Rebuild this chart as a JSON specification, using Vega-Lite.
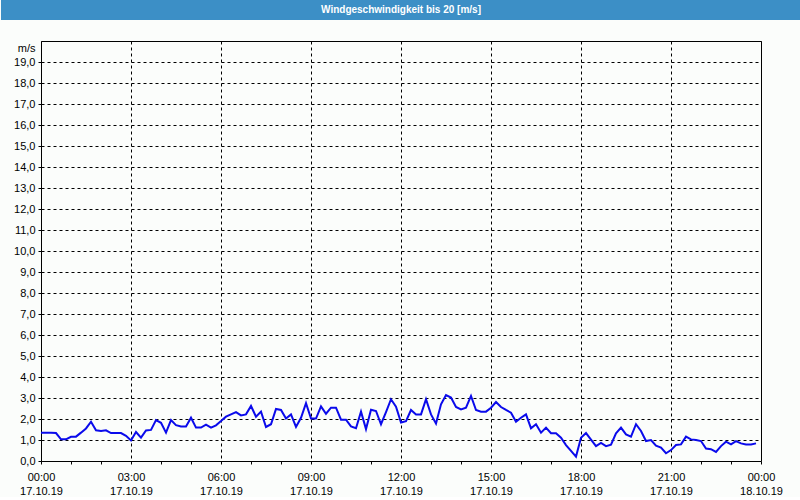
{
  "$schema": "https://vega.github.io/schema/vega-lite/v6.json",
  "background": "#fbfdfb",
  "padding": 0,
  "spacing": 20,
  "config": {"font": "Liberation Sans"},
  "vconcat": [
    {
      "width": 760,
      "height": 20,
      "view": {"fill": "#3c8fc6", "stroke": null},
      "data": {"values": [{"title": "Windgeschwindigkeit bis 20 [m/s]"}]},
      "mark": {"type": "text", "color": "#ffffff", "fontWeight": "bold", "fontSize": 10, "font": "Liberation Sans", "dx": -20},
      "encoding": {
        "text": {"field": "title", "type": "nominal"},
        "y": {
          "field": "title",
          "type": "nominal",
          "axis": {"title": null, "labels": false, "ticks": false, "grid": false, "domain": true, "domainColor": "#3c8fc6", "domainWidth": 80, "translate": 0, "minExtent": 40, "maxExtent": 40}
        }
      }
    },
    {
      "width": 720,
      "height": 420,
      "view": {"fill": "#fbfdfb", "stroke": "#000000", "strokeWidth": 1},
      "data": {"values": [
        {"t": "2019-10-17T00:00:00", "v": 1.35},
        {"t": "2019-10-17T00:10:00", "v": 1.35},
        {"t": "2019-10-17T00:20:00", "v": 1.35},
        {"t": "2019-10-17T00:30:00", "v": 1.33},
        {"t": "2019-10-17T00:40:00", "v": 1.03},
        {"t": "2019-10-17T00:50:00", "v": 1.03},
        {"t": "2019-10-17T01:00:00", "v": 1.15},
        {"t": "2019-10-17T01:10:00", "v": 1.16},
        {"t": "2019-10-17T01:20:00", "v": 1.35},
        {"t": "2019-10-17T01:30:00", "v": 1.55},
        {"t": "2019-10-17T01:40:00", "v": 1.87},
        {"t": "2019-10-17T01:50:00", "v": 1.46},
        {"t": "2019-10-17T02:00:00", "v": 1.43},
        {"t": "2019-10-17T02:10:00", "v": 1.46},
        {"t": "2019-10-17T02:20:00", "v": 1.33},
        {"t": "2019-10-17T02:30:00", "v": 1.33},
        {"t": "2019-10-17T02:40:00", "v": 1.33},
        {"t": "2019-10-17T02:50:00", "v": 1.2},
        {"t": "2019-10-17T03:00:00", "v": 0.98},
        {"t": "2019-10-17T03:10:00", "v": 1.38},
        {"t": "2019-10-17T03:20:00", "v": 1.11},
        {"t": "2019-10-17T03:30:00", "v": 1.45},
        {"t": "2019-10-17T03:40:00", "v": 1.48},
        {"t": "2019-10-17T03:50:00", "v": 1.95},
        {"t": "2019-10-17T04:00:00", "v": 1.82},
        {"t": "2019-10-17T04:10:00", "v": 1.35},
        {"t": "2019-10-17T04:20:00", "v": 1.95},
        {"t": "2019-10-17T04:30:00", "v": 1.71},
        {"t": "2019-10-17T04:40:00", "v": 1.64},
        {"t": "2019-10-17T04:50:00", "v": 1.64},
        {"t": "2019-10-17T05:00:00", "v": 2.06},
        {"t": "2019-10-17T05:10:00", "v": 1.59},
        {"t": "2019-10-17T05:20:00", "v": 1.59},
        {"t": "2019-10-17T05:30:00", "v": 1.73},
        {"t": "2019-10-17T05:40:00", "v": 1.59},
        {"t": "2019-10-17T05:50:00", "v": 1.7},
        {"t": "2019-10-17T06:00:00", "v": 1.9},
        {"t": "2019-10-17T06:10:00", "v": 2.11},
        {"t": "2019-10-17T06:20:00", "v": 2.22},
        {"t": "2019-10-17T06:30:00", "v": 2.33},
        {"t": "2019-10-17T06:40:00", "v": 2.17},
        {"t": "2019-10-17T06:50:00", "v": 2.22},
        {"t": "2019-10-17T07:00:00", "v": 2.62},
        {"t": "2019-10-17T07:10:00", "v": 2.11},
        {"t": "2019-10-17T07:20:00", "v": 2.35},
        {"t": "2019-10-17T07:30:00", "v": 1.62},
        {"t": "2019-10-17T07:40:00", "v": 1.75},
        {"t": "2019-10-17T07:50:00", "v": 2.48},
        {"t": "2019-10-17T08:00:00", "v": 2.43},
        {"t": "2019-10-17T08:10:00", "v": 2.02},
        {"t": "2019-10-17T08:20:00", "v": 2.22},
        {"t": "2019-10-17T08:30:00", "v": 1.62},
        {"t": "2019-10-17T08:40:00", "v": 2.06},
        {"t": "2019-10-17T08:50:00", "v": 2.75},
        {"t": "2019-10-17T09:00:00", "v": 2.02},
        {"t": "2019-10-17T09:10:00", "v": 2.02},
        {"t": "2019-10-17T09:20:00", "v": 2.6},
        {"t": "2019-10-17T09:30:00", "v": 2.25},
        {"t": "2019-10-17T09:40:00", "v": 2.54},
        {"t": "2019-10-17T09:50:00", "v": 2.54},
        {"t": "2019-10-17T10:00:00", "v": 1.97},
        {"t": "2019-10-17T10:10:00", "v": 1.97},
        {"t": "2019-10-17T10:20:00", "v": 1.65},
        {"t": "2019-10-17T10:30:00", "v": 1.56},
        {"t": "2019-10-17T10:40:00", "v": 2.35},
        {"t": "2019-10-17T10:50:00", "v": 1.52},
        {"t": "2019-10-17T11:00:00", "v": 2.44},
        {"t": "2019-10-17T11:10:00", "v": 2.38},
        {"t": "2019-10-17T11:20:00", "v": 1.75},
        {"t": "2019-10-17T11:30:00", "v": 2.33},
        {"t": "2019-10-17T11:40:00", "v": 2.94},
        {"t": "2019-10-17T11:50:00", "v": 2.59},
        {"t": "2019-10-17T12:00:00", "v": 1.83},
        {"t": "2019-10-17T12:10:00", "v": 1.9},
        {"t": "2019-10-17T12:20:00", "v": 2.43},
        {"t": "2019-10-17T12:30:00", "v": 2.22},
        {"t": "2019-10-17T12:40:00", "v": 2.22},
        {"t": "2019-10-17T12:50:00", "v": 2.94},
        {"t": "2019-10-17T13:00:00", "v": 2.22},
        {"t": "2019-10-17T13:10:00", "v": 1.78},
        {"t": "2019-10-17T13:20:00", "v": 2.7},
        {"t": "2019-10-17T13:30:00", "v": 3.14},
        {"t": "2019-10-17T13:40:00", "v": 3.02},
        {"t": "2019-10-17T13:50:00", "v": 2.57},
        {"t": "2019-10-17T14:00:00", "v": 2.46},
        {"t": "2019-10-17T14:10:00", "v": 2.54},
        {"t": "2019-10-17T14:20:00", "v": 3.1},
        {"t": "2019-10-17T14:30:00", "v": 2.43},
        {"t": "2019-10-17T14:40:00", "v": 2.35},
        {"t": "2019-10-17T14:50:00", "v": 2.35},
        {"t": "2019-10-17T15:00:00", "v": 2.54},
        {"t": "2019-10-17T15:10:00", "v": 2.81},
        {"t": "2019-10-17T15:20:00", "v": 2.57},
        {"t": "2019-10-17T15:30:00", "v": 2.43},
        {"t": "2019-10-17T15:40:00", "v": 2.3},
        {"t": "2019-10-17T15:50:00", "v": 1.87},
        {"t": "2019-10-17T16:00:00", "v": 2.06},
        {"t": "2019-10-17T16:10:00", "v": 2.22},
        {"t": "2019-10-17T16:20:00", "v": 1.56},
        {"t": "2019-10-17T16:30:00", "v": 1.75},
        {"t": "2019-10-17T16:40:00", "v": 1.35},
        {"t": "2019-10-17T16:50:00", "v": 1.59},
        {"t": "2019-10-17T17:00:00", "v": 1.32},
        {"t": "2019-10-17T17:10:00", "v": 1.32},
        {"t": "2019-10-17T17:20:00", "v": 1.11},
        {"t": "2019-10-17T17:30:00", "v": 0.76},
        {"t": "2019-10-17T17:40:00", "v": 0.48},
        {"t": "2019-10-17T17:50:00", "v": 0.21},
        {"t": "2019-10-17T18:00:00", "v": 1.11},
        {"t": "2019-10-17T18:10:00", "v": 1.33},
        {"t": "2019-10-17T18:20:00", "v": 1.02},
        {"t": "2019-10-17T18:30:00", "v": 0.71},
        {"t": "2019-10-17T18:40:00", "v": 0.86},
        {"t": "2019-10-17T18:50:00", "v": 0.71},
        {"t": "2019-10-17T19:00:00", "v": 0.78},
        {"t": "2019-10-17T19:10:00", "v": 1.32},
        {"t": "2019-10-17T19:20:00", "v": 1.59},
        {"t": "2019-10-17T19:30:00", "v": 1.27},
        {"t": "2019-10-17T19:40:00", "v": 1.16},
        {"t": "2019-10-17T19:50:00", "v": 1.75},
        {"t": "2019-10-17T20:00:00", "v": 1.43},
        {"t": "2019-10-17T20:10:00", "v": 0.95},
        {"t": "2019-10-17T20:20:00", "v": 1.0},
        {"t": "2019-10-17T20:30:00", "v": 0.73},
        {"t": "2019-10-17T20:40:00", "v": 0.64},
        {"t": "2019-10-17T20:50:00", "v": 0.37},
        {"t": "2019-10-17T21:00:00", "v": 0.52},
        {"t": "2019-10-17T21:10:00", "v": 0.76},
        {"t": "2019-10-17T21:20:00", "v": 0.79},
        {"t": "2019-10-17T21:30:00", "v": 1.16},
        {"t": "2019-10-17T21:40:00", "v": 1.03},
        {"t": "2019-10-17T21:50:00", "v": 1.0},
        {"t": "2019-10-17T22:00:00", "v": 0.95},
        {"t": "2019-10-17T22:10:00", "v": 0.59},
        {"t": "2019-10-17T22:20:00", "v": 0.56},
        {"t": "2019-10-17T22:30:00", "v": 0.43},
        {"t": "2019-10-17T22:40:00", "v": 0.71},
        {"t": "2019-10-17T22:50:00", "v": 0.92},
        {"t": "2019-10-17T23:00:00", "v": 0.79},
        {"t": "2019-10-17T23:10:00", "v": 0.95},
        {"t": "2019-10-17T23:20:00", "v": 0.84},
        {"t": "2019-10-17T23:30:00", "v": 0.79},
        {"t": "2019-10-17T23:40:00", "v": 0.79},
        {"t": "2019-10-17T23:50:00", "v": 0.84}
      ]},
      "mark": {"type": "line", "color": "#0a0aeb", "strokeWidth": 2},
      "encoding": {
        "x": {
          "field": "t",
          "type": "temporal",
          "scale": {"domain": [
            {"year": 2019, "month": 10, "date": 17, "hours": 0},
            {"year": 2019, "month": 10, "date": 18, "hours": 0}
          ]},
          "axis": {
            "title": null,
            "values": [
              {"year": 2019, "month": 10, "date": 17, "hours": 0},
              {"year": 2019, "month": 10, "date": 17, "hours": 1},
              {"year": 2019, "month": 10, "date": 17, "hours": 2},
              {"year": 2019, "month": 10, "date": 17, "hours": 3},
              {"year": 2019, "month": 10, "date": 17, "hours": 4},
              {"year": 2019, "month": 10, "date": 17, "hours": 5},
              {"year": 2019, "month": 10, "date": 17, "hours": 6},
              {"year": 2019, "month": 10, "date": 17, "hours": 7},
              {"year": 2019, "month": 10, "date": 17, "hours": 8},
              {"year": 2019, "month": 10, "date": 17, "hours": 9},
              {"year": 2019, "month": 10, "date": 17, "hours": 10},
              {"year": 2019, "month": 10, "date": 17, "hours": 11},
              {"year": 2019, "month": 10, "date": 17, "hours": 12},
              {"year": 2019, "month": 10, "date": 17, "hours": 13},
              {"year": 2019, "month": 10, "date": 17, "hours": 14},
              {"year": 2019, "month": 10, "date": 17, "hours": 15},
              {"year": 2019, "month": 10, "date": 17, "hours": 16},
              {"year": 2019, "month": 10, "date": 17, "hours": 17},
              {"year": 2019, "month": 10, "date": 17, "hours": 18},
              {"year": 2019, "month": 10, "date": 17, "hours": 19},
              {"year": 2019, "month": 10, "date": 17, "hours": 20},
              {"year": 2019, "month": 10, "date": 17, "hours": 21},
              {"year": 2019, "month": 10, "date": 17, "hours": 22},
              {"year": 2019, "month": 10, "date": 17, "hours": 23},
              {"year": 2019, "month": 10, "date": 18, "hours": 0}
            ],
            "labelExpr": "hours(datum.value) % 3 == 0 ? [timeFormat(datum.value, '%H:%M'), timeFormat(datum.value, '%d.%m.%y')] : ''",
            "grid": true,
            "gridColor": "#000000",
            "gridDash": [3, 3],
            "gridOpacity": {"condition": {"test": "hours(datum.value) % 3 == 0", "value": 1}, "value": 0},
            "domain": false,
            "ticks": true,
            "tickColor": "#000000",
            "tickSize": 3,
            "labelPadding": 7,
            "labelFont": "Liberation Sans",
            "labelFontSize": 11,
            "labelColor": "#000000",
            "labelOverlap": false,
            "labelBound": false,
            "labelFlush": false,
            "labelLineHeight": 14,
            "labelBaseline": "top"
          }
        },
        "y": {
          "field": "v",
          "type": "quantitative",
          "scale": {"domain": [0, 20], "nice": false},
          "axis": {
            "title": "m/s",
            "titleAngle": 0,
            "titleX": -6,
            "titleY": 7,
            "titleAlign": "right",
            "titleBaseline": "middle",
            "titleFont": "Liberation Sans",
            "titleFontWeight": "normal",
            "titleFontSize": 11,
            "titleColor": "#000000",
            "values": [0, 1, 2, 3, 4, 5, 6, 7, 8, 9, 10, 11, 12, 13, 14, 15, 16, 17, 18, 19],
            "labelExpr": "replace(format(datum.value, '.1f'), '.', ',')",
            "grid": true,
            "gridColor": "#000000",
            "gridDash": [3, 3],
            "domain": false,
            "tickColor": "#000000",
            "tickSize": 3,
            "labelPadding": 3,
            "labelFont": "Liberation Sans",
            "labelFontSize": 11,
            "labelColor": "#000000",
            "labelOverlap": false,
            "labelBound": false,
            "minExtent": 40,
            "maxExtent": 40
          }
        }
      }
    }
  ]
}
